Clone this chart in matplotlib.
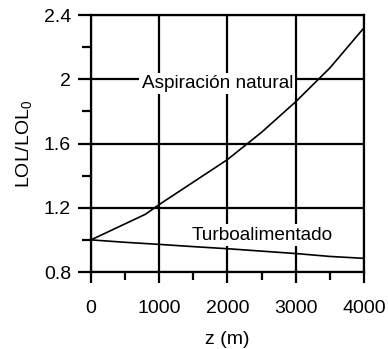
# LOL/LOL0 vs altitude for natural aspiration and turbocharged engines
import matplotlib
matplotlib.use('Agg')
import matplotlib.pyplot as plt
from matplotlib.ticker import FixedLocator, MultipleLocator

plt.rcParams['font.family'] = ['Liberation Sans', 'DejaVu Sans']
plt.rcParams['mathtext.default'] = 'regular'

# curve data
z_nat = [0, 250, 500, 800, 1000, 1500, 2000, 2500, 3000, 3500, 4000]
lol_nat = [1.0, 1.05, 1.10, 1.16, 1.22, 1.36, 1.50, 1.67, 1.86, 2.07, 2.32]
z_turbo = [0, 500, 1000, 1500, 2000, 2500, 3000, 3500, 4000]
lol_turbo = [1.0, 0.985, 0.972, 0.958, 0.945, 0.93, 0.915, 0.897, 0.885]

x_ticks = [0, 1000, 2000, 3000, 4000]
x_labels = ['0', '1000', '2000', '3000', '4000']
y_ticks = [0.8, 1.2, 1.6, 2.0, 2.4]
y_labels = ['0.8', '1.2', '1.6', '2', '2.4']

fig = plt.figure(figsize=(3.88, 3.49), dpi=100)
ax = fig.add_axes([0.2345, 0.2206, 0.7035, 0.7364])

ax.plot(z_nat, lol_nat, color='black', lw=1.2, zorder=3)
ax.plot(z_turbo, lol_turbo, color='black', lw=1.2, zorder=3)

ax.set_xlim(0, 4000)
ax.set_ylim(0.8, 2.4)
ax.xaxis.set_major_locator(FixedLocator(x_ticks))
ax.set_xticklabels(x_labels)
ax.xaxis.set_minor_locator(MultipleLocator(500))
ax.yaxis.set_major_locator(FixedLocator(y_ticks))
ax.set_yticklabels(y_labels)
ax.yaxis.set_minor_locator(MultipleLocator(0.2))

ax.grid(True, which='major', color='black', lw=1.6, zorder=1)
for s in ax.spines.values():
    s.set_linewidth(1.6)

ax.tick_params(axis='y', which='major', direction='out', length=9.4, width=1.6,
               pad=5, labelsize=14)
ax.tick_params(axis='y', which='minor', direction='out', length=6.5, width=1.6)
ax.tick_params(axis='x', which='major', direction='out', length=8, width=1.6,
               pad=12, labelsize=14)
ax.tick_params(axis='x', which='minor', direction='out', length=5.4, width=1.6)

ax.set_xlabel('z (m)', fontsize=14, labelpad=10)
ax.set_ylabel('LOL/LOL$_0$', fontsize=14, labelpad=7)

box = dict(facecolor='white', edgecolor='none', pad=1.5)
ax.text(1850, 1.975, 'Aspiración natural', fontsize=13.7, ha='center', va='center',
        bbox=box, zorder=2)
ax.text(2510, 1.03, 'Turboalimentado', fontsize=13.7, ha='center', va='center',
        bbox=box, zorder=2)

fig.savefig('out.png', dpi=100)
